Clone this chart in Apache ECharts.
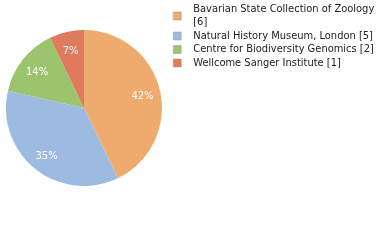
<!DOCTYPE html>
<html>
<head>
<meta charset="utf-8">
<script src="https://cdn.jsdelivr.net/npm/echarts@6/dist/echarts.min.js"></script>
<style>
html, body { margin: 0; padding: 0; background: #fff; }
#chart { width: 380px; height: 240px; }
</style>
</head>
<body>
<div id="chart"></div>
<script>
var chart = echarts.init(document.getElementById('chart'));

// data
var names = ['Bavarian State Collection of Zoology', 'Natural History Museum, London', 'Centre for Biodiversity Genomics', 'Wellcome Sanger Institute'];
var counts = [6, 5, 2, 1];
var colors = ['#efab6e', '#9dbbe0', '#9cc46e', '#df7a5d'];

var pieData = names.map(function(n, i) {
	return { name: n, value: counts[i] };
});
var total = counts.reduce(function(a, b) { return a + b; }, 0);

var legendLabel = {};
names.forEach(function(n, i) {
	legendLabel[n] = i === 0 ? 'Bavarian State Collection of Zoology\n[' + counts[i] + ']' : n + ' [' + counts[i] + ']';
});

var option = {
	animation: false,
	color: colors,
	legend: {
		orient: 'vertical',
		left: 173,
		top: 3,
		padding: 0,
		itemWidth: 8,
		itemHeight: 8,
		itemGap: 0.5,
		icon: 'rect',
		selectedMode: false,
		formatter: function(name) { return legendLabel[name]; },
		textStyle: {
			fontFamily: '"DejaVu Sans Condensed", "DejaVu Sans", sans-serif',
			fontSize: 11,
			color: '#222',
			lineHeight: 13,
			padding: [0, 0, 0, 7]
		},
		itemStyle: { borderColor: '#999', borderWidth: 0.5 },
		data: names
	},
	series: [{
		type: 'pie',
		center: [84, 108],
		radius: [0, 78],
		startAngle: 90,
		clockwise: true,
		silent: true,
		label: { show: false },
		labelLine: { show: false },
		itemStyle: { borderColor: '#fff', borderWidth: 0 },
		data: pieData
	}, {
		// transparent ring used only to place percent labels
		type: 'pie',
		center: [84, 108],
		radius: [36, 78],
		startAngle: 90,
		clockwise: true,
		silent: true,
		itemStyle: { color: 'rgba(0,0,0,0)' },
		label: {
			show: true,
			position: 'inside',
			color: '#fff',
			fontFamily: '"DejaVu Sans", sans-serif',
			fontSize: 10,
			offset: [0, 1.5],
			formatter: function(p) {
				return Math.floor(p.value / total * 100) + '%';
			}
		},
		labelLine: { show: false },
		data: pieData
	}]
};
chart.setOption(option);
</script>
</body>
</html>
